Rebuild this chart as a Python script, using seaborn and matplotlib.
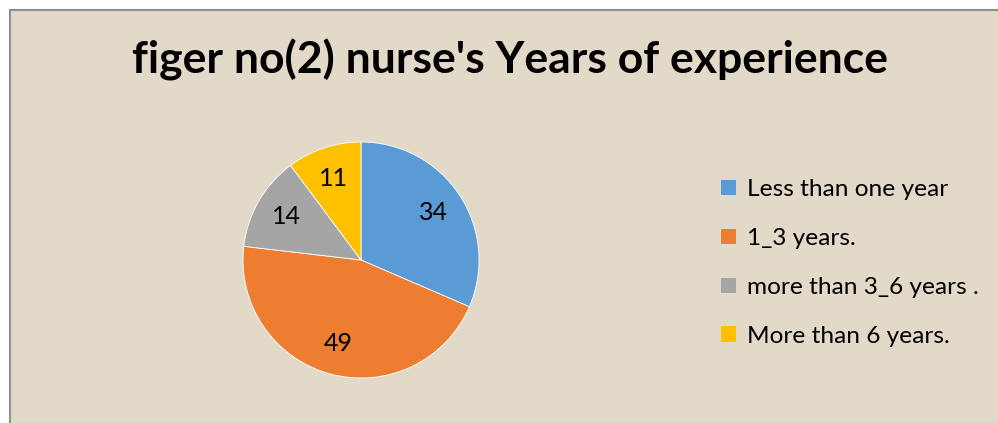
import matplotlib
matplotlib.use("Agg")
import matplotlib.pyplot as plt
import matplotlib.patches as mpatches
import seaborn as sns

categories = ["Less than one year", "1_3 years.", "more than 3_6 years .", "More than 6 years."]
values = [34, 49, 14, 11]
title = "figer no(2) nurse's Years of experience"
colors = ["#5B9BD5", "#ED7D31", "#A5A5A5", "#FFC000"]

sns.set_theme(style="white")
plt.rcParams['font.family'] = ['Lato', 'DejaVu Sans']
plt.rcParams['text.color'] = 'black'

W, H = 998, 423
fig = plt.figure(figsize=(W / 100, H / 100), dpi=100)
fig.patch.set_facecolor("white")

# chart area background with border
bg = mpatches.Rectangle((10 / W, -0.01), 1.0, 1 - 10 / H + 0.01, transform=fig.transFigure,
                        facecolor="#e2d9c8", edgecolor="#8f8f8f", linewidth=1.5, zorder=-10)
fig.add_artist(bg)

fig.text(510 / W, 1 - 60 / H, title, ha="center", va="center", fontsize=32,
         fontweight="bold", color="black")

cx, cy, r = 361, 260, 118
ax = fig.add_axes([(cx - r) / W, (H - cy - r) / H, 2 * r / W, 2 * r / H], zorder=5)
ax.set_facecolor("none")
total = sum(values)
palette = sns.color_palette(colors)
wedges, _, autotexts = ax.pie(values, colors=palette, startangle=90, counterclock=False,
                              autopct=lambda p: f"{round(p * total / 100)}",
                              pctdistance=0.73,
                              wedgeprops=dict(edgecolor="white", linewidth=0.6),
                              textprops=dict(fontsize=18, color="black"))
ax.set_xlim(-1, 1)
ax.set_ylim(-1, 1)
ax.set_aspect("equal")
ax.axis("off")

handles = [mpatches.Patch(facecolor=palette[i], edgecolor="none") for i in range(len(categories))]
fig.legend(handles, categories, loc="upper left", bbox_to_anchor=(709 / W, 1 - 167 / H),
           frameon=False, fontsize=17.6, handlelength=0.6, handleheight=0.6,
           handletextpad=0.45, labelspacing=1.14, borderpad=0, labelcolor="black")

fig.savefig("out.png", dpi=100, facecolor=fig.get_facecolor())
